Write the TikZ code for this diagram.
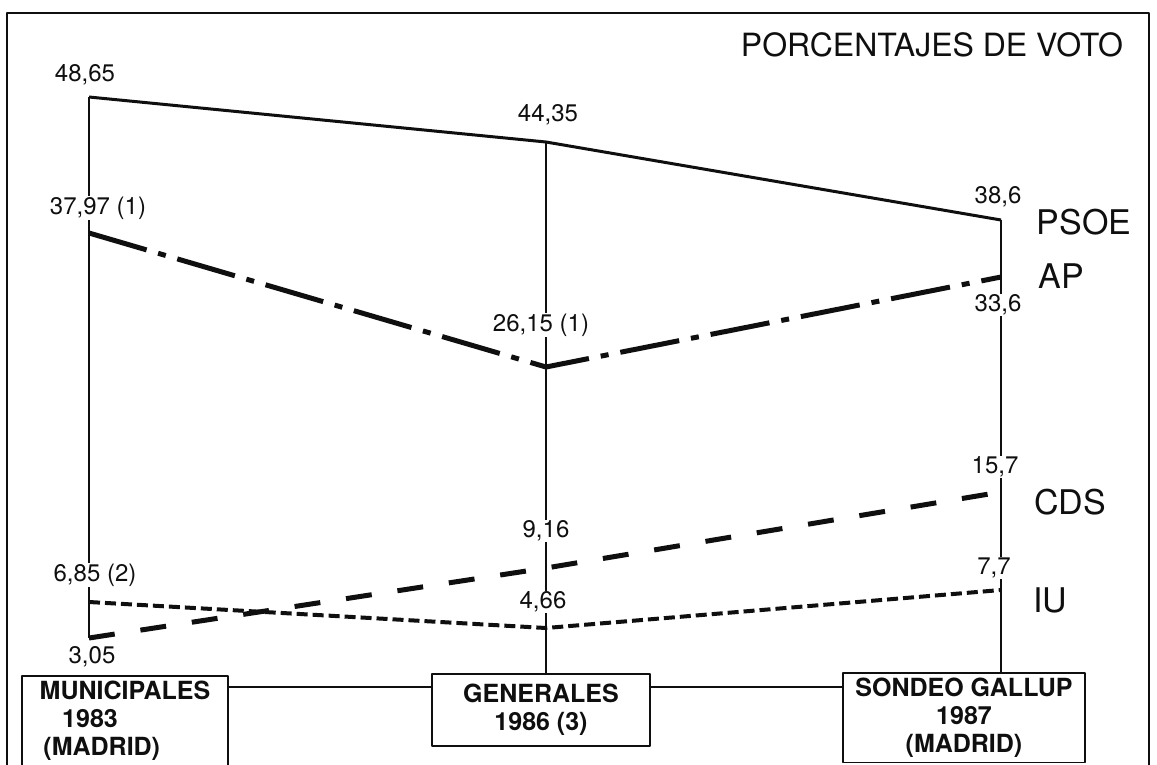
\documentclass[tikz,border=0pt]{standalone}
\usepackage{fontspec}
\usepackage{tikz}
\usetikzlibrary{positioning, calc}
\setmainfont{TeX Gyre Heros}
\definecolor{ink}{RGB}{15,15,15}

\begin{document}
\begin{tikzpicture}[x=1pt, y=-1pt, line join=round, color=ink,
    num/.style={fill=white, inner sep=1pt, font=\fontsize{24}{26}\selectfont},
    party/.style={inner sep=0pt, font=\fontsize{34}{36}\selectfont},
    datebox/.style={draw, line width=1.5pt, fill=white, anchor=north, inner sep=5pt, font=\bfseries\fontsize{25}{28}\selectfont},
    axis/.style={line width=1.5pt}]
    \useasboundingbox (0,0) rectangle (1157,764);
    \clip (0,0) rectangle (1157,764);
    \draw[line width=1.5pt] (7,13) rectangle (1149,800);
    \node[font=\fontsize{32}{34}\selectfont] (title) at (932,45) {PORCENTAJES DE VOTO};

    % points of each series
    \coordinate (ps1) at (89,97);  \coordinate (ps2) at (546,142); \coordinate (ps3) at (1001,220);
    \coordinate (ap1) at (89,233); \coordinate (ap2) at (546,367); \coordinate (ap3) at (1001,277);
    \coordinate (cd1) at (89,638); \coordinate (cd2) at (546,568); \coordinate (cd3) at (1001,492);
    \coordinate (iu1) at (89,602); \coordinate (iu2) at (546,628); \coordinate (iu3) at (1001,590);

    % the three polls
    \node[datebox, minimum width=206pt, align=left] (muni) at (125,675) {MUNICIPALES\\\hspace*{0.9em}1983\\\hspace*{0.15em}(MADRID)};
    \node[datebox, minimum width=218pt, minimum height=72pt, align=center] (gene) at (541,673) {GENERALES\\1986 (3)};
    \node[datebox, minimum width=242pt, align=center] (sond) at (964,672) {SONDEO GALLUP\\1987\\(MADRID)};
    \draw[axis] ($(muni.north east)+(0,12)$) -- ($(gene.north west)+(0,14)$);
    \draw[axis] ($(gene.north east)+(0,14)$) -- ($(sond.north west)+(0,15)$);

    \draw[axis] (ps1) -- (cd1);
    \draw[axis] (ps2) -- (ps2 |- gene.north);
    \draw[axis] (ps3) -- (ps3 |- sond.north);

    \draw[line width=3pt] (ps1) -- (ps2) -- (ps3);
    \draw[line width=5pt, dash pattern=on 60pt off 12pt on 8pt off 12pt] (ap1) -- (ap2) -- (ap3);
    \draw[line width=5pt, dash pattern=on 26pt off 26pt] (cd1) -- (cd2) -- (cd3);
    \draw[line width=4pt, dash pattern=on 11pt off 5pt] (iu1) -- (iu2) -- (iu3);

    % values
    \node[num] (v4865) at (85,75) {48,65};
    \node[num] (v4435) at (548,115) {44,35};
    \node[num] (v386) at (998,197) {38,6};
    \node[num] (v3797) at (98,208) {37,97 (1)};
    \node[num] (v2615) at (541,325) {26,15 (1)};
    \node[num] (v336) at (998,305) {33,6};
    \node[num] (v157) at (995,467) {15,7};
    \node[num] (v916) at (546,531) {9,16};
    \node[num] (v305) at (92,657) {3,05};
    \node[num] (v685) at (95,575) {6,85 (2)};
    \node[num] (v466) at (543,602) {4,66};
    \node[num] (v77) at (994,568) {7,7};

    % parties
    \node[party] (psoe) at (1084,222) {PSOE};
    \node[party] (ap) at (1061,276) {AP};
    \node[party] (cds) at (1070,502) {CDS};
    \node[party] (iu) at (1050,600) {IU};
\end{tikzpicture}
\end{document}
